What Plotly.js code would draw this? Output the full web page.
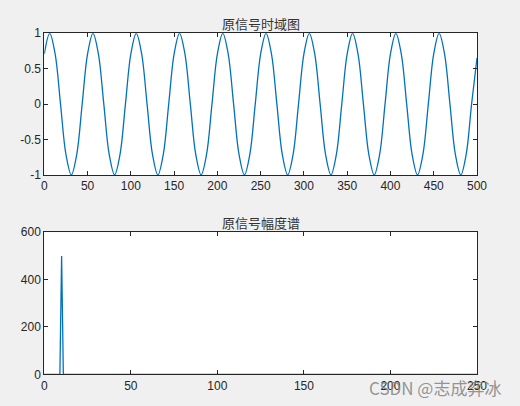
<!DOCTYPE html>
<html>
<head>
<meta charset="utf-8">
<script src="https://cdn.plot.ly/plotly-3.0.1.min.js"></script>
<style>html,body{margin:0;padding:0;background:#f0f0f0;}#chart{width:520px;height:406px;}</style>
</head>
<body>
<div id="chart"></div>
<script>
// Time-domain signal (samples at peaks, troughs, zero crossings and mid-points)
const timeX = [0,6.25,12.5,18.75,25,31.25,37.5,43.75,
  50,56.25,62.5,68.75,75,81.25,87.5,93.75,
  100,106.25,112.5,118.75,125,131.25,137.5,143.75,
  150,156.25,162.5,168.75,175,181.25,187.5,193.75,
  200,206.25,212.5,218.75,225,231.25,237.5,243.75,
  250,256.25,262.5,268.75,275,281.25,287.5,293.75,
  300,306.25,312.5,318.75,325,331.25,337.5,343.75,
  350,356.25,362.5,368.75,375,381.25,387.5,393.75,
  400,406.25,412.5,418.75,425,431.25,437.5,443.75,
  450,456.25,462.5,468.75,475,481.25,487.5,493.75,
  500];
const timeY = [0.71,1,0.71,0,-0.71,-1,-0.71,0,
  0.71,1,0.71,0,-0.71,-1,-0.71,0,
  0.71,1,0.71,0,-0.71,-1,-0.71,0,
  0.71,1,0.71,0,-0.71,-1,-0.71,0,
  0.71,1,0.71,0,-0.71,-1,-0.71,0,
  0.71,1,0.71,0,-0.71,-1,-0.71,0,
  0.71,1,0.71,0,-0.71,-1,-0.71,0,
  0.71,1,0.71,0,-0.71,-1,-0.71,0,
  0.71,1,0.71,0,-0.71,-1,-0.71,0,
  0.71,1,0.71,0,-0.71,-1,-0.71,0,
  0.65];
// Amplitude spectrum
const freqX = [0, 9, 10, 11, 250];
const ampY = [0, 0, 500, 0, 0];
// Tick values and labels
const topXTicks = [0,50,100,150,200,250,300,350,400,450,500];
const topYTicks = [-1,-0.5,0,0.5,1];
const topYLabels = ['-1','-0.5','0','0.5','1'];
const botXTicks = [0,50,100,150,200,250];
const botYTicks = [0,200,400,600];
const title1 = '原信号时域图';
const title2 = '原信号幅度谱';
const watermark = 'CSDN @志成弈冰';

const lineColor = '#0072BD';
const axCommon = {
  showline: true, mirror: 'allticks', ticks: 'inside', ticklen: 4, tickwidth: 1,
  tickcolor: '#262626', linecolor: '#262626', linewidth: 1,
  showgrid: false, zeroline: false, fixedrange: true,
  tickfont: {family: 'Arial, Liberation Sans, sans-serif', size: 12, color: '#262626'}
};

const traces = [
  {x: timeX, y: timeY, type: 'scatter', mode: 'lines', xaxis: 'x', yaxis: 'y',
   line: {color: lineColor, width: 1.3, shape: 'spline', smoothing: 1}},
  {x: freqX, y: ampY, type: 'scatter', mode: 'lines', xaxis: 'x2', yaxis: 'y2',
   line: {color: lineColor, width: 1.3}}
];

const layout = {
  width: 520, height: 406,
  margin: {l: 0, r: 0, t: 0, b: 0},
  paper_bgcolor: '#f0f0f0', plot_bgcolor: '#ffffff',
  showlegend: false,
  xaxis: Object.assign({}, axCommon, {domain: [0.0852, 0.9173], range: [0, 500], tickvals: topXTicks, anchor: 'y'}),
  yaxis: Object.assign({}, axCommon, {domain: [0.569, 0.918], range: [-1, 1], tickvals: topYTicks, ticktext: topYLabels, anchor: 'x'}),
  xaxis2: Object.assign({}, axCommon, {domain: [0.0852, 0.9173], range: [0, 250], tickvals: botXTicks, anchor: 'y2'}),
  yaxis2: Object.assign({}, axCommon, {domain: [0.078, 0.428], range: [0, 600], tickvals: botYTicks, anchor: 'x2'}),
  annotations: [
    {text: title1, xref: 'paper', yref: 'paper', x: 0.501, y: 0.943, xanchor: 'center', yanchor: 'middle', showarrow: false,
     font: {family: 'Noto Sans CJK SC, sans-serif', size: 13, color: '#333333'}},
    {text: title2, xref: 'paper', yref: 'paper', x: 0.501, y: 0.451, xanchor: 'center', yanchor: 'middle', showarrow: false,
     font: {family: 'Noto Sans CJK SC, sans-serif', size: 13, color: '#333333'}},
    {text: watermark, xref: 'paper', yref: 'paper', x: 0.968, y: 0.046, xanchor: 'right', yanchor: 'middle', showarrow: false,
     font: {family: 'Noto Sans CJK SC, sans-serif', size: 17, color: 'rgba(130,130,130,0.85)'}}
  ]
};

Plotly.newPlot('chart', traces, layout, {staticPlot: true, displayModeBar: false});
</script>
</body>
</html>
